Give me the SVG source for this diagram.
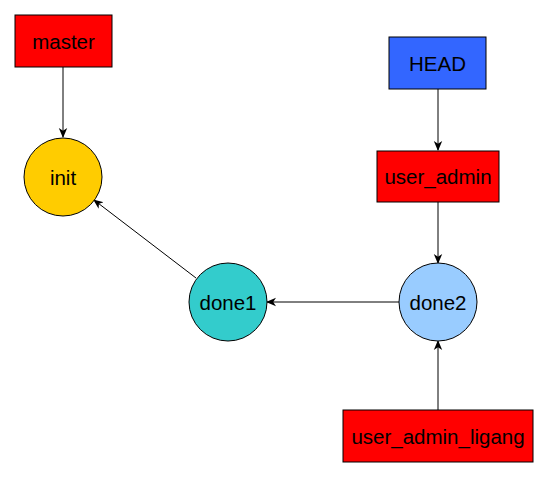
<svg xmlns="http://www.w3.org/2000/svg" width="548" height="478" viewBox="0 0 548 478">
<style>
.box{stroke:#000;stroke-width:1}
.lbl{font-family:"Liberation Sans",Arial,sans-serif;font-size:20.5px;fill:#000;text-anchor:middle}
.edge{stroke:#000;stroke-width:1;fill:none;marker-end:url(#arr)}
</style>
<defs>
<marker id="arr" viewBox="0 0 10 10" refX="9" refY="5" markerWidth="10" markerHeight="10" markerUnits="userSpaceOnUse" orient="auto">
<path d="M0,0.8 L10,5 L0,9.2 L2.8,5 z" fill="#000"/>
</marker>
</defs>
<rect width="548" height="478" fill="#fff"/>
<g id="connectors">
<line class="edge" x1="63" y1="67" x2="63" y2="137"/>
<line class="edge" x1="438" y1="89" x2="438" y2="150"/>
<line class="edge" x1="438" y1="202" x2="438" y2="263"/>
<line class="edge" x1="438" y1="410" x2="438" y2="341"/>
<line class="edge" x1="399" y1="302" x2="267" y2="302"/>
<line class="edge" x1="196" y1="278" x2="94" y2="200"/>
</g>
<g id="master"><rect class="box" x="15" y="15" width="97" height="52" fill="#FF0000"/><text class="lbl" x="63.5" y="48.5">master</text></g>
<g id="init"><circle class="box" cx="63" cy="177" r="39" fill="#FFCC00"/><text class="lbl" x="63" y="184.5">init</text></g>
<g id="HEAD"><rect class="box" x="389" y="37" width="97" height="52" fill="#3366FF"/><text class="lbl" x="437.5" y="70.5">HEAD</text></g>
<g id="user_admin"><rect class="box" x="377" y="151" width="122" height="51" fill="#FF0000"/><text class="lbl" x="438" y="184">user_admin</text></g>
<g id="done1"><circle class="box" cx="228" cy="302" r="39" fill="#33CCCC"/><text class="lbl" x="228" y="309.5">done1</text></g>
<g id="done2"><circle class="box" cx="438" cy="302" r="39" fill="#99CCFF"/><text class="lbl" x="438" y="309.5">done2</text></g>
<g id="user_admin_ligang"><rect class="box" x="343" y="410" width="190" height="52" fill="#FF0000"/><text class="lbl" x="438" y="443.5">user_admin_ligang</text></g>
</svg>
